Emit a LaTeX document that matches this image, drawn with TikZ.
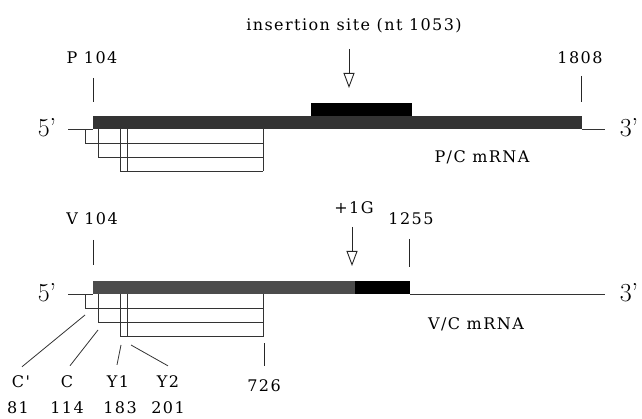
\documentclass[tikz,border=0pt]{standalone}
\usepackage{fontspec}
\usepackage{tikz}
\usetikzlibrary{arrows.meta}
\newfontfamily\labfont{DejaVu Serif}[LetterSpace=9]
\definecolor{barP}{gray}{0.2}
\definecolor{barV}{gray}{0.3}

\begin{document}
\begin{tikzpicture}[x=1pt, y=-1pt,
        lab/.style={font=\labfont\fontsize{16}{16}\selectfont, inner sep=0pt},
        endlab/.style={font=\fontsize{26}{26}\selectfont, inner sep=0pt},
        orf/.style={black!80, line width=0.8pt},
        tick/.style={black!85, line width=0.9pt},
        site/.style={black!85, line width=0.9pt, -{Triangle[open, length=15pt, width=11pt]}}]
    \useasboundingbox (0,0) rectangle (642,419);

    \node[lab] (site) at (354,26) {insertion site (nt 1053)};
    \node[lab] (p104) at (92,58) {P 104};
    \node[lab] (p1808) at (580,58) {1808};
    \node[endlab] (p5) at (47,128) {5'};
    \node[endlab] (p3) at (629,128) {3'};
    \node[lab] (pcm) at (482,157) {P/C mRNA};
    \fill[barP] (93,116) rectangle (582,129.5);
    \fill[black] (311,103) rectangle (412,116.5);
    \draw[orf] (68,129.5) -- (93,129.5);
    \draw[orf] (582,129.5) -- (605,129.5);
    \draw[tick] (93,78) -- (93,102);
    \draw[tick] (581,76) -- (581,102);
    \draw[site] (349,49) -- (349,88);

    \node[lab] (v104) at (92,219) {V 104};
    \node[lab] (plusg) at (354,208) {+1G};
    \node[lab] (v1255) at (411,219) {1255};
    \node[endlab] (v5) at (47,293) {5'};
    \node[endlab] (v3) at (629,293) {3'};
    \node[lab] (vcm) at (476,324) {V/C mRNA};
    \fill[barV] (93,281) rectangle (355,294.5);
    \fill[black] (355,281) rectangle (410,294.5);
    \draw[orf] (68,294.5) -- (93,294.5);
    \draw[orf] (410,294.5) -- (605,294.5);
    \draw[tick] (93,240) -- (93,265);
    \draw[tick] (409,239) -- (409,267);
    \draw[site] (352,227) -- (352,266);

    \foreach \yb in {129.5, 294.5} {
        \draw[orf] (85,\yb) |- (263,{\yb+14});
        \draw[orf] (98,\yb) |- (263,{\yb+28});
        \draw[orf] (120,\yb) |- (263,{\yb+42});
        \draw[orf] (127,\yb) -- (127,{\yb+42});
        \draw[orf] (263,\yb) -- (263,{\yb+42});
    }

    \node[lab] (lcp) at (21,382) {C'};
    \node[lab] (lc) at (67,382) {C};
    \node[lab] (ly1) at (118,382) {Y1};
    \node[lab] (ly2) at (168,382) {Y2};
    \node[lab] (l726) at (264,386) {726};
    \node[lab] (n81) at (18,408) {81};
    \node[lab] (n114) at (67,408) {114};
    \node[lab] (n183) at (120,408) {183};
    \node[lab] (n201) at (168,408) {201};

    \coordinate (scp) at (85,315);
    \coordinate (sc) at (98,330);
    \coordinate (sy1) at (121,345);
    \coordinate (sy2) at (131,345);
    \coordinate (s726) at (264,343);
    \draw[orf] (scp) -- ([shift={(1,-9)}]lcp.north);
    \draw[orf] (sc) -- ([shift={(3,-10)}]lc.north);
    \draw[orf] (sy1) -- ([shift={(-1,-11)}]ly1.north);
    \draw[orf] (sy2) -- ([shift={(0,-10)}]ly2.north);
    \draw[tick] (s726) -- ([shift={(0,-14)}]l726.north);
\end{tikzpicture}
\end{document}
